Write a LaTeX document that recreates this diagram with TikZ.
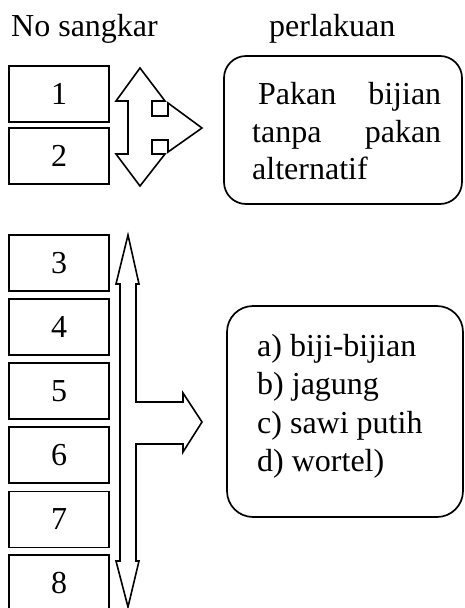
\documentclass[tikz,border=0pt]{standalone}
\usepackage{fontspec}
\setmainfont{Liberation Serif}
\begin{document}
\begin{tikzpicture}[x=1pt,y=-1pt,
  every node/.style={font=\fontsize{32}{38}\selectfont, inner sep=0pt},
  cage/.style={draw, line width=1.7pt, minimum width=100pt, minimum height=56pt},
  blockarrow/.style={draw, line width=1.6pt, line join=miter, fill=white},
  panel/.style={draw, line width=1.7pt},
  txt/.style={anchor=base west}]
\clip (0,0) rectangle (464,608);

% column headings
\node[txt] (hcage) at (11,36) {No sangkar};
\node[txt] (htreat) at (269,36) {perlakuan};

% cages 1 and 2
\node[cage] (c1) at (59,94) {1};
\node[cage] (c2) at (59,156) {2};

% three-way block arrow for cages 1-2
\draw[blockarrow] (140,68) -- (165,101) -- (152,101) -- (152,116) -- (168,116)
  -- (168,103) -- (202,128) -- (168,152) -- (168,140) -- (152,140) -- (152,154)
  -- (165,154) -- (140,186) -- (116,154) -- (128,154) -- (128,101) -- (116,101) -- cycle;

% treatment panel for cages 1-2
\node[panel, rounded corners=22pt, minimum width=238pt, minimum height=148pt] (t1) at (343,130) {};
\node[txt] (t1a) at (252,104) {\hspace*{6pt}\makebox[183pt][s]{Pakan bijian}};
\node[txt] (t1b) at (252,142) {\makebox[189pt][s]{tanpa pakan}};
\node[txt] (t1c) at (252,179) {alternatif};

% cages 3 to 8
\node[cage] (c3) at (59,263) {3};
\node[cage] (c4) at (59,327) {4};
\node[cage] (c5) at (59,391) {5};
\node[cage] (c6) at (59,455) {6};
\node[cage] (c7) at (59,519.5) {7};
\node[cage] (c8) at (59,583) {8};

% long block arrow for cages 3-8
\draw[blockarrow] (128,235) -- (139,284) -- (136,284) -- (136,402) -- (183,402)
  -- (183,393) -- (202,422) -- (183,452) -- (183,444) -- (136,444) -- (136,561)
  -- (139,561) -- (128,607) -- (116,561) -- (120,561) -- (120,284) -- (116,284) -- cycle;

% treatment panel for cages 3-8
\node[panel, rounded corners=26pt, minimum width=236pt, minimum height=211pt] (t2) at (345,411.5) {};
\node[txt] (t2a) at (257,356) {a) biji-bijian};
\node[txt] (t2b) at (257,394.5) {b) jagung};
\node[txt] (t2c) at (257,433) {c) sawi putih};
\node[txt] (t2d) at (257,471.5) {d) wortel)};
\end{tikzpicture}
\end{document}
